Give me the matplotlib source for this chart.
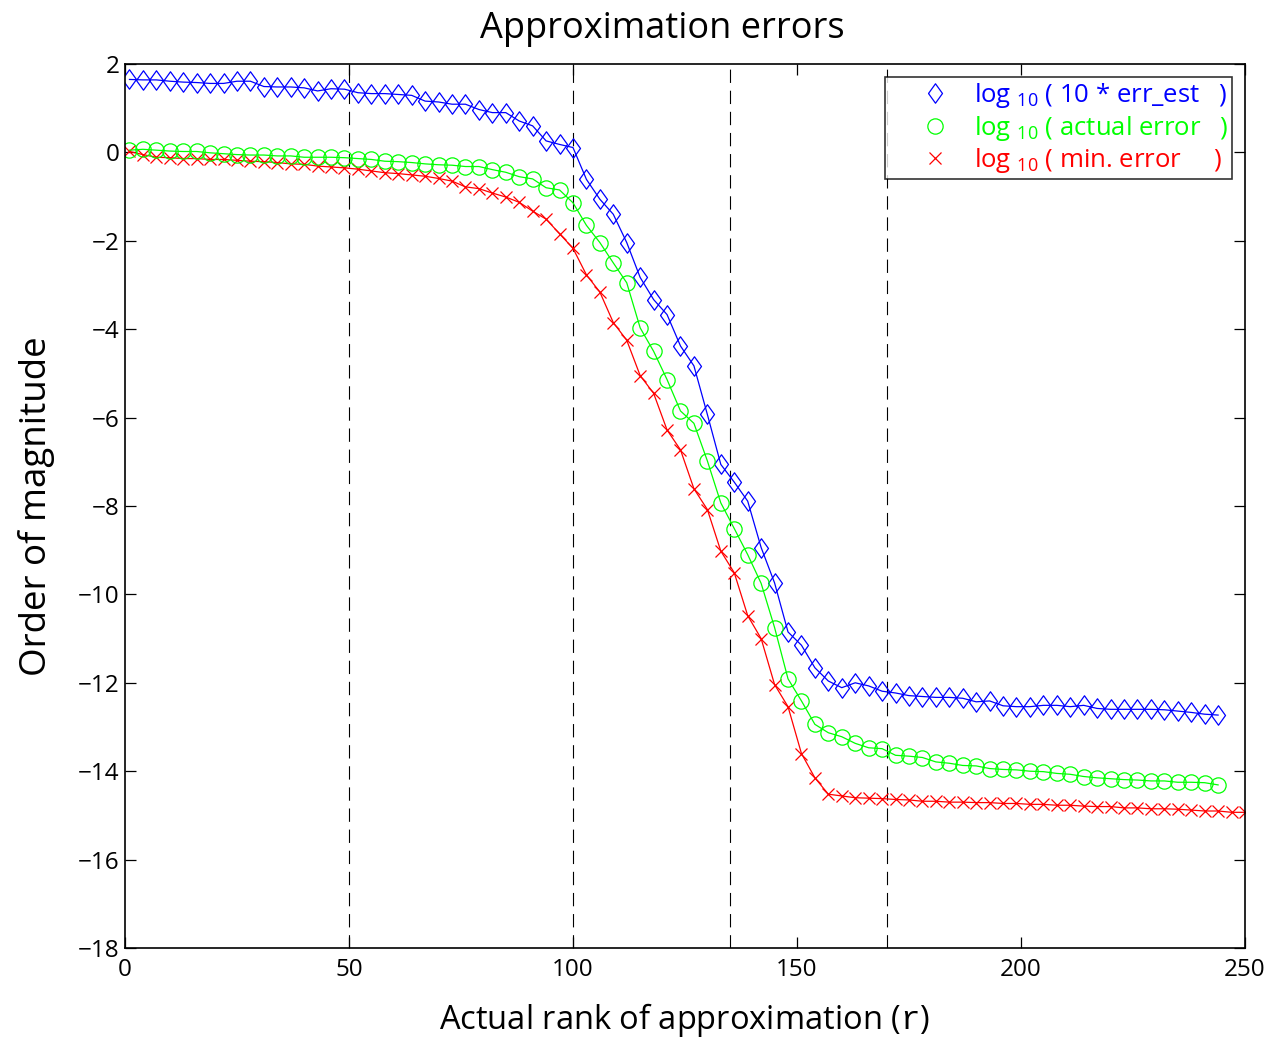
import numpy as np
import matplotlib.pyplot as plt

# rank at each marker (every 3rd rank)
r_est = np.arange(1, 245, 3)
r_min = np.arange(1, 251, 3)

# log10(10 * err_est)
err_est = [1.65, 1.64, 1.64, 1.61, 1.59, 1.58, 1.56, 1.56, 1.61, 1.61, 1.49, 1.48,
           1.48, 1.46, 1.39, 1.44, 1.43, 1.35, 1.33, 1.33, 1.31, 1.29, 1.16, 1.14,
           1.09, 1.09, 0.97, 0.90, 0.90, 0.71, 0.60, 0.26, 0.18, 0.11, -0.61, -1.06,
           -1.40, -2.04, -2.83, -3.33, -3.67, -4.38, -4.83, -5.93, -7.06, -7.46, -7.89,
           -8.94, -9.74, -10.85, -11.15, -11.66, -11.96, -12.11, -12.00, -12.07,
           -12.19, -12.23, -12.29, -12.31, -12.33, -12.33, -12.35, -12.43, -12.41,
           -12.52, -12.54, -12.54, -12.51, -12.51, -12.54, -12.51, -12.58, -12.60,
           -12.60, -12.60, -12.60, -12.61, -12.64, -12.67, -12.71, -12.73]

# log10(actual error)
err_act = [0.05, 0.07, 0.05, 0.03, 0.02, 0.02, -0.01, -0.03, -0.05, -0.06, -0.06, -0.08,
           -0.08, -0.11, -0.11, -0.11, -0.12, -0.14, -0.16, -0.20, -0.21, -0.23, -0.26,
           -0.28, -0.29, -0.32, -0.32, -0.39, -0.45, -0.55, -0.60, -0.80, -0.85, -1.14,
           -1.65, -2.04, -2.50, -2.95, -3.97, -4.50, -5.14, -5.85, -6.13, -6.98, -7.93,
           -8.51, -9.10, -9.75, -10.75, -11.91, -12.41, -12.94, -13.13, -13.22, -13.37,
           -13.47, -13.49, -13.64, -13.66, -13.69, -13.79, -13.82, -13.87, -13.88,
           -13.94, -13.96, -13.97, -14.00, -14.01, -14.05, -14.07, -14.12, -14.15,
           -14.17, -14.19, -14.20, -14.22, -14.22, -14.25, -14.25, -14.26, -14.31]

# log10(min. error)
err_min = [0.02, -0.05, -0.11, -0.12, -0.14, -0.14, -0.16, -0.16, -0.18, -0.20, -0.21,
           -0.23, -0.26, -0.27, -0.31, -0.33, -0.35, -0.38, -0.42, -0.46, -0.48, -0.51,
           -0.54, -0.59, -0.65, -0.78, -0.82, -0.92, -1.01, -1.13, -1.33, -1.51, -1.84,
           -2.17, -2.77, -3.16, -3.85, -4.25, -5.05, -5.45, -6.28, -6.73, -7.61, -8.08,
           -9.02, -9.51, -10.48, -11.00, -12.04, -12.54, -13.60, -14.15, -14.52, -14.56,
           -14.60, -14.61, -14.62, -14.64, -14.65, -14.68, -14.68, -14.70, -14.70,
           -14.71, -14.71, -14.73, -14.73, -14.75, -14.75, -14.77, -14.77, -14.79,
           -14.80, -14.80, -14.83, -14.83, -14.85, -14.85, -14.86, -14.88, -14.90,
           -14.90, -14.93, -14.93]

vlines = [50, 100, 135, 170]
labels = ['log $_{10}$ ( 10 * err_est   )',
          'log $_{10}$ ( actual error   )',
          'log $_{10}$ ( min. error     )']

plt.rcParams['font.family'] = ['Open Sans', 'DejaVu Sans']
plt.rcParams['mathtext.default'] = 'regular'
plt.rcParams['mathtext.fontset'] = 'custom'
plt.rcParams['mathtext.tt'] = 'Liberation Mono'

# MATLAB-style diamond: taller than wide
diamond = [(-0.72, 0), (0, 1), (0.72, 0), (0, -1), (-0.72, 0)]


def main():
    fig = plt.figure(figsize=(12.7, 10.42), dpi=100)
    ax = fig.add_axes([0.0984, 0.0902, 0.8819, 0.8484])

    for x in vlines:
        ax.axvline(x, color='k', lw=0.8, dashes=(12, 7))

    series = [(r_est, err_est, 'b', diamond, 14, labels[0]),
              (r_min, err_min, 'r', 'x', 8, labels[2]),
              (r_est, err_act, '#00ff00', 'o', 11, labels[1])]
    handles = {}
    for xs, ys, c, m, ms, lab in series:
        ax.plot(xs, ys, '-', color=c, lw=0.9)
        h, = ax.plot(xs, ys, ls='none', marker=m, ms=ms, mfc='none', mec=c, mew=0.9,
                     label=lab)
        handles[lab] = h

    ax.set_xlim(0, 250)
    ax.set_ylim(-18, 2)
    ax.set_xticks(np.arange(0, 251, 50))
    ax.set_yticks(np.arange(-18, 3, 2))
    ax.tick_params(direction='in', top=True, right=True, length=8, width=0.9,
                   labelsize=17.5)
    ax.tick_params(axis='x', pad=7)
    ax.tick_params(axis='y', pad=4)
    for s in ax.spines.values():
        s.set_linewidth(1.2)

    ax.set_title('Approximation errors', fontsize=26, pad=19, x=0.48)
    ax.set_xlabel('Actual rank of approximation ($\\mathtt{r}$)', fontsize=23.5,
                  labelpad=14)
    ax.set_ylabel('Order of magnitude', fontsize=26.5, labelpad=16)

    leg = ax.legend([handles[l] for l in labels], labels, loc='upper right',
                    fontsize=18.5, frameon=True, fancybox=False,
                    borderaxespad=0.5, borderpad=0.15, handletextpad=-0.3,
                    labelspacing=0.15, handlelength=3.6)
    leg.get_frame().set_edgecolor('k')
    leg.get_frame().set_linewidth(1.2)
    for t, c in zip(leg.get_texts(), ['b', '#00ff00', 'r']):
        t.set_color(c)

    fig.savefig('out.png')


if __name__ == '__main__':
    main()
